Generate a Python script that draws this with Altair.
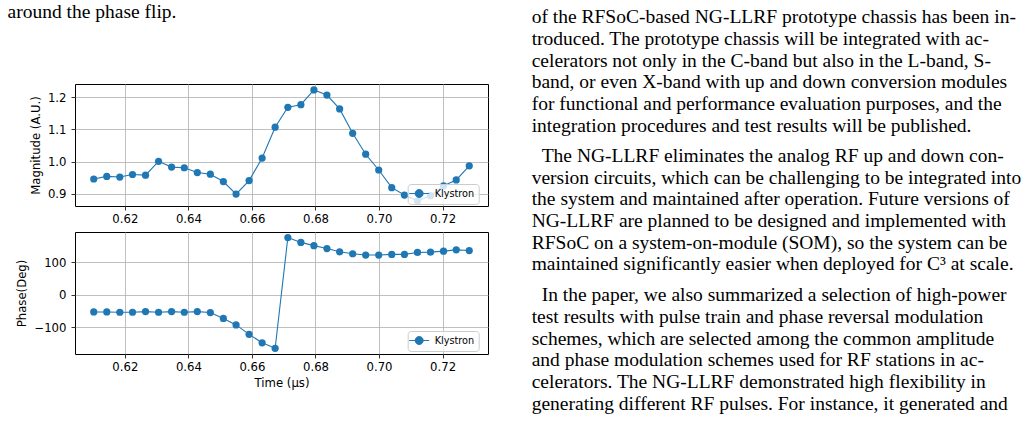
import altair as alt
import pandas as pd

# ---- data ----
time_us = [0.6102, 0.6143, 0.6184, 0.6224, 0.6265, 0.6306, 0.6347, 0.6387, 0.6428, 0.6469,
           0.6510, 0.6550, 0.6591, 0.6632, 0.6673, 0.6713, 0.6754, 0.6795, 0.6836, 0.6876,
           0.6917, 0.6958, 0.6999, 0.7040, 0.7080, 0.7121, 0.7162, 0.7203, 0.7243, 0.7284]
magnitude = [0.946, 0.954, 0.952, 0.960, 0.958, 1.001, 0.983, 0.981, 0.966, 0.961,
             0.938, 0.899, 0.941, 1.011, 1.107, 1.169, 1.177, 1.223, 1.207, 1.164,
             1.088, 1.023, 0.974, 0.919, 0.896, 0.878, 0.894, 0.925, 0.943, 0.987]
phase_deg = [-53, -53, -54, -54, -52, -54, -52, -54, -52, -55,
             -73, -93, -122, -148, -165, 176, 161, 151, 142, 132,
             126, 122, 122, 124, 124, 130, 131, 134, 138, 136]
series_name = "Klystron"

x_ticks = [0.62, 0.64, 0.66, 0.68, 0.70, 0.72]
mag_ticks = [0.9, 1.0, 1.1, 1.2]
phase_ticks = [-100, 0, 100]

left_text = ["around the phase flip."]
para1 = [
    "of the RFSoC-based NG-LLRF prototype chassis has been in-",
    "troduced.  The prototype chassis will be integrated with ac-",
    "celerators not only in the C-band but also in the L-band, S-",
    "band, or even X-band with up and down conversion modules",
    "for functional and performance evaluation purposes, and the",
    "integration procedures and test results will be published.",
]
para2 = [
    "The NG-LLRF eliminates the analog RF up and down con-",
    "version circuits, which can be challenging to be integrated into",
    "the system and maintained after operation. Future versions of",
    "NG-LLRF are planned to be designed and implemented with",
    "RFSoC on a system-on-module (SOM), so the system can be",
    "maintained significantly easier when deployed for C\u00b3 at scale.",
]
para3 = [
    "In the paper, we also summarized a selection of high-power",
    "test results with pulse train and phase reversal modulation",
    "schemes, which are selected among the common amplitude",
    "and phase modulation schemes used for RF stations in ac-",
    "celerators.  The NG-LLRF demonstrated high flexibility in",
    "generating different RF pulses. For instance, it generated and",
]

df = pd.DataFrame({
    "t": time_us,
    "mag": magnitude,
    "phase": phase_deg,
    "series": [series_name] * len(time_us),
})

BLUE = "#1f77b4"
FONT = "DejaVu Sans"
SERIF = "Liberation Serif"
W, H = 413, 122
LH = 21.7

x_scale = alt.Scale(domain=[0.6043, 0.7343], nice=False, zero=False)
color_scale = alt.Scale(domain=[series_name], range=[BLUE])

LEG_PATH = "M-2,0L2,0M0.8,0A0.8,0.8,0,1,1,-0.8,0A0.8,0.8,0,1,1,0.8,0Z"


def legend(ly):
    return alt.Legend(
        orient="none", legendX=332.7, legendY=ly, title=None, padding=4,
        fillColor="rgba(255,255,255,0.8)", strokeColor="#cccccc", cornerRadius=3,
        symbolType=LEG_PATH, symbolSize=100, symbolFillColor=BLUE,
        symbolStrokeColor=BLUE, symbolStrokeWidth=1, symbolOpacity=1,
        symbolOffset=2, labelOffset=10, labelFont=FONT, labelFontSize=9.7,
        labelColor="black",
    )


def panel(field, ydomain, yticks, yfmt, ytitle, xtitle, ly):
    base = alt.Chart(df)
    x = alt.X("t:Q", scale=x_scale,
              axis=alt.Axis(values=x_ticks, format=".2f", title=xtitle))
    y = alt.Y(f"{field}:Q", scale=alt.Scale(domain=ydomain, nice=False, zero=False),
              axis=alt.Axis(values=yticks, format=yfmt, title=ytitle))
    col = alt.Color("series:N", scale=color_scale, legend=legend(ly))
    line = base.mark_line(strokeWidth=1.1).encode(x=x, y=y, color=col)
    pts = base.mark_point(filled=True, size=52, opacity=1).encode(x=x, y=y, color=col)
    return line, pts


def text_layer(lines, px, py):
    return alt.Chart(alt.Data(values=[{"k": 0}])).mark_text(
        text=lines, font=SERIF, fontSize=19.5, lineHeight=LH,
        align="left", baseline="alphabetic", color="black",
    ).encode(x=alt.value(px), y=alt.value(py))


def paragraph(lines, py, indent=True):
    first_x = 540.7 if indent else 530.7
    return [text_layer(lines[:1], first_x - OX, py - OY),
            text_layer(lines[1:], 530.7 - OX, py + LH - OY)]


# panel-relative positions of the surrounding page text (top panel origin)
OX, OY = 74, 83
texts = ([text_layer(left_text, 6.5 - OX, 16.7 - OY)]
         + paragraph(para1, 22.3, indent=False)
         + paragraph(para2, 161)
         + paragraph(para3, 300.3))

l1, p1 = panel("mag", [0.862, 1.2414], mag_ticks, ".1f", "Magnitude (A.U.)", None, 100)
top = alt.layer(l1, p1, *texts).properties(width=W, height=H)

l2, p2 = panel("phase", [-182.5, 193], phase_ticks, "d", "Phase(Deg)", "Time (\u03bcs)", 99)
bottom = alt.layer(l2, p2).properties(width=W, height=H)

chart = (
    alt.vconcat(top, bottom, spacing=26, bounds="flush")
    .resolve_scale(color="independent")
    .resolve_legend(color="independent")
    .properties(padding={"left": 7, "top": 1, "right": 0, "bottom": 0},
                background="white")
    .configure_view(stroke="black", strokeWidth=1)
    .configure_axis(
        labelFont=FONT, labelFontSize=11.7, labelColor="black",
        titleFont=FONT, titleFontSize=11.7, titleFontWeight="normal", titleColor="black",
        domain=False, ticks=True, tickColor="black", tickSize=4, tickWidth=0.8,
        grid=True, gridColor="#b0b0b0", gridWidth=0.8, labelFlush=False,
    )
    .configure_axisX(labelPadding=3.5, titlePadding=4)
    .configure_axisY(labelPadding=5, titlePadding=6)
)

chart.save("out.html", embed_options={"renderer": "svg", "actions": False})
